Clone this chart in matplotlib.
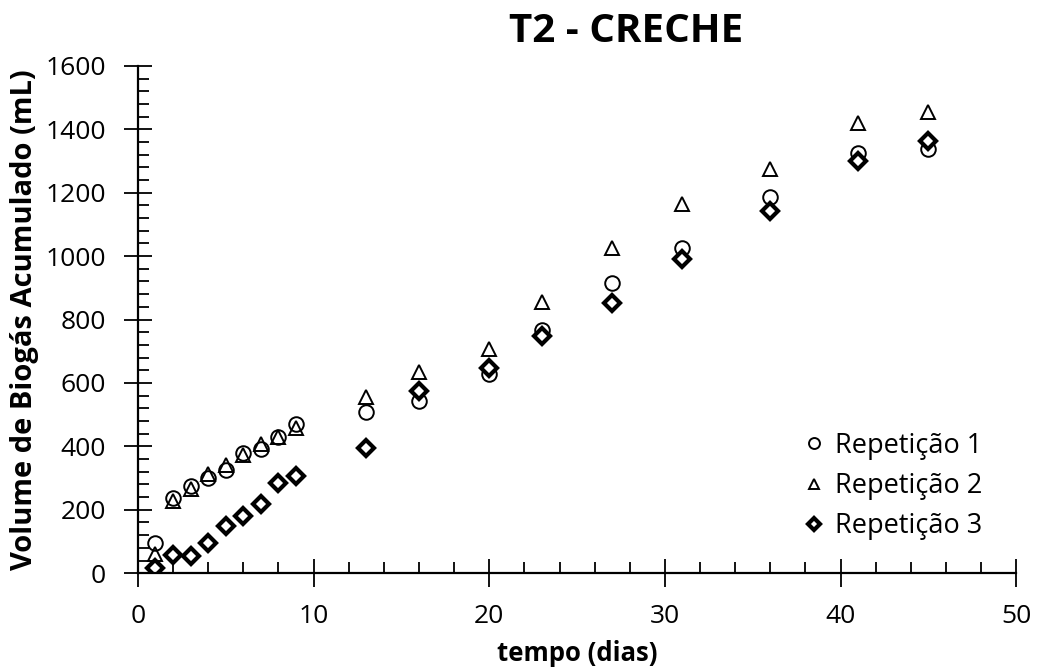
import matplotlib
matplotlib.use("Agg")
import matplotlib.pyplot as plt
from matplotlib.ticker import MultipleLocator

plt.rcParams['font.family'] = ['Open Sans', 'DejaVu Sans']

# tempo (dias)
dias = [1, 2, 3, 4, 5, 6, 7, 8, 9, 13, 16, 20, 23, 27, 31, 36, 41, 45]
# volume acumulado (mL)
rep1 = [94, 236, 275, 299, 325, 378, 393, 428, 470, 509, 544, 628, 767, 914, 1025, 1188, 1325, 1337]
rep2 = [60, 227, 267, 312, 341, 372, 409, 430, 457, 556, 635, 706, 856, 1026, 1163, 1275, 1419, 1456]
rep3 = [15, 56, 54, 94, 148, 180, 218, 283, 306, 394, 575, 646, 748, 851, 991, 1142, 1301, 1364]

fig = plt.figure(figsize=(10.37, 6.72), dpi=100)
ax = fig.add_axes([0.133, 0.147, 0.847, 0.755])

ax.plot(dias, rep1, 'o', ls='none', mfc='white', mec='black', mew=1.4, ms=10.5, label='Repetição 1')
ax.plot(dias, rep2, '^', ls='none', mfc='none', mec='black', mew=1.4, ms=10.5, label='Repetição 2')
ax.plot(dias, rep3, 'D', ls='none', mfc='white', mec='black', mew=3, ms=8.5, label='Repetição 3')

ax.set_xlim(0, 50)
ax.set_ylim(0, 1600)
ax.xaxis.set_major_locator(MultipleLocator(10))
ax.xaxis.set_minor_locator(MultipleLocator(2))
ax.yaxis.set_major_locator(MultipleLocator(200))
ax.yaxis.set_minor_locator(MultipleLocator(40))

ax.spines['top'].set_visible(False)
ax.spines['right'].set_visible(False)
ax.spines['left'].set_linewidth(1.6)
ax.spines['bottom'].set_linewidth(1.6)
ax.tick_params(axis='x', which='major', direction='inout', length=20, width=1.3, labelsize=19, pad=12)
ax.tick_params(axis='x', which='minor', direction='in', length=8, width=1.3)
ax.tick_params(axis='y', which='major', direction='inout', length=20, width=1.3, labelsize=19, pad=13)
ax.tick_params(axis='y', which='minor', direction='in', length=8, width=1.3)

ax.set_xlabel('tempo (dias)', fontsize=18.5, fontweight='bold', labelpad=8)
ax.set_ylabel('Volume de Biogás Acumulado (mL)', fontsize=21, fontweight='bold', labelpad=5)
ax.set_title('T2 - CRECHE', fontsize=29, fontweight='bold', x=0.556, pad=17)

ax.legend(loc='lower left', frameon=False, fontsize=19.5, handlelength=1.0, handletextpad=0.3,
          labelspacing=0.45, borderpad=0, borderaxespad=0, markerscale=0.75,
          bbox_to_anchor=(0.754, 0.065))

fig.savefig('out.png', dpi=100)
